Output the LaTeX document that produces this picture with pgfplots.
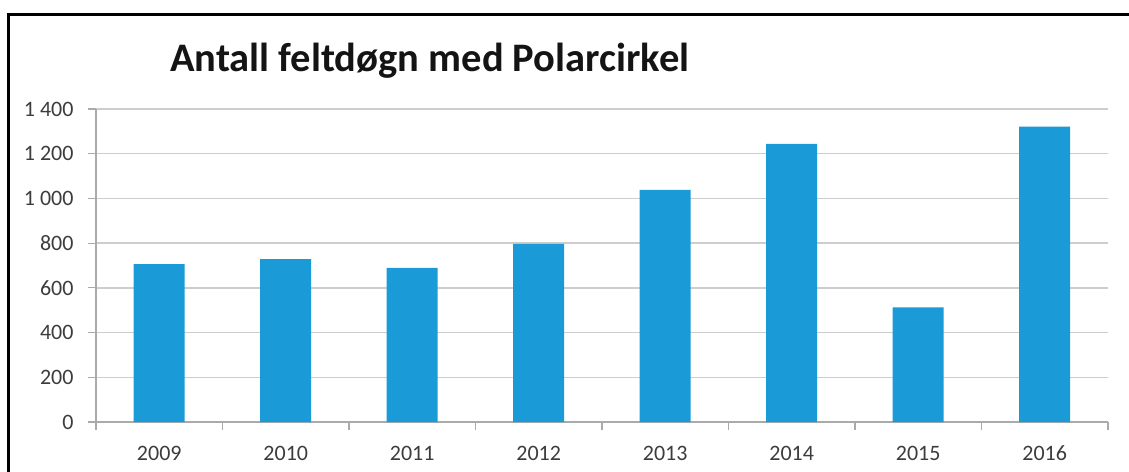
\documentclass[border=0pt]{standalone}
\usepackage{pgfplots}
\pgfplotsset{compat=1.18}
\usepackage{fontspec}
\setmainfont{Carlito}
\definecolor{barblue}{RGB}{26,154,214}
\definecolor{gridgray}{RGB}{205,205,205}
\definecolor{axisgray}{RGB}{170,170,170}
\definecolor{labelgray}{RGB}{60,60,60}
\begin{document}
\begin{tikzpicture}
\begin{axis}[
  name=ax,
  scale only axis, width=1012pt, height=313pt,
  xmin=0.5, xmax=8.5, ymin=0, ymax=1400,
  axis lines*=left,
  axis line style={axisgray, line width=1.2pt},
  ytick={0,200,...,1400},
  yticklabels={0,200,400,600,800,1 000,1 200,1 400},
  xtick={1,...,8},
  xticklabels={2009,2010,2011,2012,2013,2014,2015,2016},
  minor xtick={0.5,1.5,...,8.5},
  tick align=outside,
  major tick length=8pt, minor tick length=8pt,
  major x tick style={draw=none},
  every tick/.style={axisgray, line width=1.2pt},
  minor x tick style={axisgray, line width=1.2pt},
  ymajorgrids,
  grid style={gridgray, line width=1.4pt},
  ticklabel style={font=\fontsize{22}{26}\selectfont, text=labelgray},
  yticklabel style={xshift=-11pt},
  xticklabel style={yshift=-12pt, text height=15pt, text depth=2pt},
  ybar, bar width=51pt,
  clip=false,
]
\addplot[fill=barblue, draw=none] coordinates {
(1,706) (2,728) (3,689) (4,797) (5,1038) (6,1244) (7,513) (8,1321)
};
\end{axis}
\begin{scope}[shift={(ax.south west)}, x=1pt, y=1pt]
\useasboundingbox (-96,-49) rectangle (1033,422);
\draw[line width=3pt] (-87,-60) -- (-87,407) -- (1040,407);
\node[anchor=base west, inner sep=0pt, font=\fontsize{40.5}{48}\selectfont\bfseries, text=black!92] at (74,350) {Antall feltdøgn med Polarcirkel};
\end{scope}
\end{tikzpicture}
\end{document}
